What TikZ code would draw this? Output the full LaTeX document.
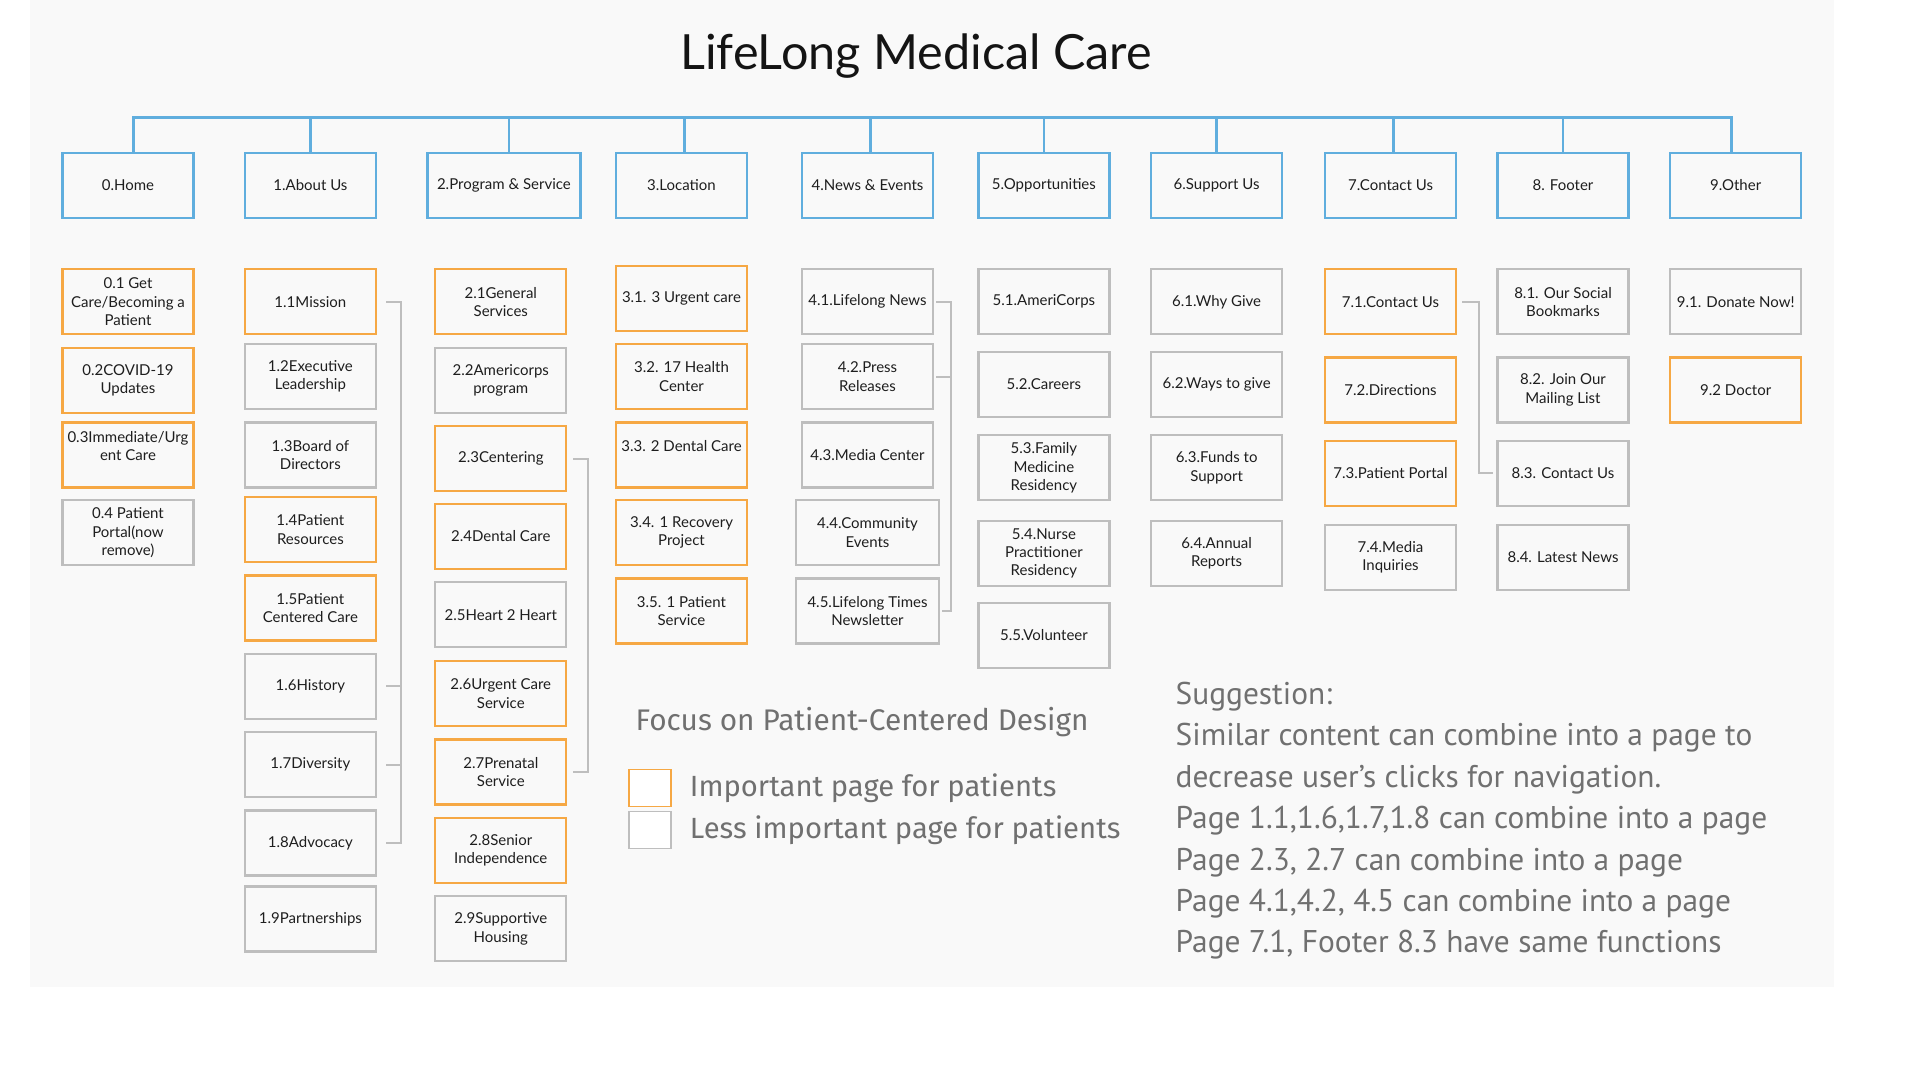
\documentclass[tikz,border=0pt]{standalone}
\usepackage{fontspec}
\setmainfont{Lato}
\newfontfamily\notefont{Fira Sans}
\newfontfamily\sugfont{PT Sans}
\usetikzlibrary{calc,positioning}
\definecolor{bgc}{RGB}{249,249,249}
\definecolor{bluec}{RGB}{96,174,222}
\definecolor{imp}{RGB}{246,168,68}
\definecolor{low}{RGB}{190,190,190}
\definecolor{ink}{RGB}{30,30,30}
\definecolor{note}{RGB}{112,112,112}

\begin{document}
\begin{tikzpicture}[x=1pt,y=-1pt,
  page/.style={draw=#1,line width=2.2pt,minimum width=131,minimum height=65,align=center,inner sep=1pt,text=ink,font=\fontsize{15}{18.4}\selectfont},
  bus/.style={bluec,line width=2.4pt},
  link/.style={low,line width=2pt}]
  \useasboundingbox (0,0) rectangle (1920,1080);
  \fill[bgc] (30,0) rectangle (1834,987);
  \node[font=\fontsize{48.5}{54}\selectfont,text=black!92] (title) at (916,56) {LifeLong Medical Care};

  \foreach \i/\x/\w/\t in {0/128/131/0.Home, 1/310.4/131/1.About Us, 2/503.9/153/2.Program \& Service,
    3/681.5/131/3.Location, 4/867.5/131/4.News \& Events, 5/1043.9/131/5.Opportunities,
    6/1216.6/131/6.Support Us, 7/1390.5/131/7.Contact Us, 8/1563/131/8. Footer, 9/1735.7/131/9.Other}
    {\node[page=bluec,minimum width=\w] (n\i) at (\x,185.5) {\t};}
  \coordinate (bus) at (0,117.5);
  \foreach \i/\d in {0/5.5,1/0,2/4.9,3/3,4/3,5/0,6/0,7/3,8/0,9/-4.3}{\coordinate (d\i) at ([xshift=\d]n\i.north);}
  \draw[bus] (d0) |- (bus -| d9) -- (d9);
  \foreach \i in {1,...,8}{\draw[bus] (d\i) -- (d\i |- bus);}

  \foreach \j/\y/\c/\t in {1/301.8/imp/{0.1 Get\\Care/Becoming a\\Patient}, 2/380.2/imp/{0.2COVID-19\\Updates},
    3/454.9/imp/{0.3Immediate/Urg\\ent Care\\~}, 4/532.7/low/{0.4 Patient\\Portal(now\\remove)}}
    {\node[page=\c] (n0\j) at (128,\y) {\t};}
  \foreach \j/\y/\c/\t in {1/301.8/imp/1.1Mission, 2/376.5/low/{1.2Executive\\Leadership}, 3/454.9/low/{1.3Board of\\Directors},
    4/529.6/imp/{1.4Patient\\Resources}, 5/608/imp/{1.5Patient\\Centered Care}, 6/686.3/low/1.6History,
    7/764.7/low/1.7Diversity, 8/843/low/1.8Advocacy, 9/919/low/1.9Partnerships}
    {\node[page=\c] (n1\j) at (310.4,\y) {\t};}
  \foreach \j/\y/\c/\t in {1/301.8/imp/{2.1General\\Services}, 2/380.2/low/{2.2Americorps\\program}, 3/458.6/imp/2.3Centering,
    4/536.3/imp/2.4Dental Care, 5/614.7/low/2.5Heart 2 Heart, 6/693.7/imp/{2.6Urgent Care\\Service},
    7/772/imp/{2.7Prenatal\\Service}, 8/850.4/imp/{2.8Senior\\Independence}, 9/928.8/low/{2.9Supportive\\Housing}}
    {\node[page=\c] (n2\j) at (500.8,\y) {\t};}
  \foreach \j/\y/\t in {1/298.2/3.1. 3 Urgent care, 2/376.5/{3.2. 17 Health\\Center}, 3/454.9/{3.3. 2 Dental Care\\~},
    4/532.7/{3.4. 1 Recovery\\Project}, 5/611/{3.5. 1 Patient\\Service}}
    {\node[page=imp] (n3\j) at (681.5,\y) {\t};}
  \foreach \j/\y/\w/\t in {1/301.8/131/4.1.Lifelong News, 2/376.5/131/{4.2.Press\\Releases}, 3/454.9/131/4.3.Media Center,
    4/532.7/143/{4.4.Community\\Events}, 5/611/143/{4.5.Lifelong Times\\Newsletter}}
    {\node[page=low,minimum width=\w] (n4\j) at (867.5,\y) {\t};}
  \foreach \j/\y/\t in {1/301.8/5.1.AmeriCorps, 2/384.5/5.2.Careers, 3/467.8/{5.3.Family\\Medicine\\Residency},
    4/553.5/{5.4.Nurse\\Practitioner\\Residency}, 5/635.5/5.5.Volunteer}
    {\node[page=low] (n5\j) at (1043.9,\y) {\t};}
  \foreach \j/\y/\t in {1/301.8/6.1.Why Give, 2/384.5/6.2.Ways to give, 3/467.8/{6.3.Funds to\\Support}, 4/553.5/{6.4.Annual\\Reports}}
    {\node[page=low] (n6\j) at (1216.6,\y) {\t};}
  \foreach \j/\y/\c/\t in {1/301.8/imp/7.1.Contact Us, 2/390/imp/7.2.Directions, 3/473.3/imp/7.3.Patient Portal,
    4/557.1/low/{7.4.Media\\Inquiries}}
    {\node[page=\c] (n7\j) at (1390.5,\y) {\t};}
  \foreach \j/\y/\t in {1/301.8/{8.1. Our Social\\Bookmarks}, 2/390/{8.2. Join Our\\Mailing List}, 3/473.3/8.3. Contact Us,
    4/557.1/8.4. Latest News}
    {\node[page=low] (n8\j) at (1563,\y) {\t};}
  \node[page=low] (n91) at (1735.7,301.8) {9.1. Donate Now!};
  \node[page=imp] (n92) at (1735.7,390) {9.2 Doctor};

  \coordinate (v1) at ($(n11.east)+(24,0)$);
  \draw[link,shorten <=9pt,shorten >=9pt] (n11.east) -- (v1) |- (n18.east);
  \foreach \k in {16,17}{\draw[link,shorten <=9pt] (n\k.east) -- (n\k.east -| v1);}
  \coordinate (v2) at ($(n23.east)+(21,0)$);
  \draw[link,shorten <=6pt,shorten >=6pt] (n23.east) -- (v2) |- (n27.east);
  \coordinate (v4) at ($(n41.east)+(17,0)$);
  \draw[link,shorten <=2pt,shorten >=2pt] (n41.east) -- (v4) |- (n45.east);
  \draw[link,shorten <=2pt] (n42.east) -- (n42.east -| v4);
  \coordinate (v7) at ($(n71.east)+(22,0)$);
  \draw[link,shorten <=5pt,shorten >=3pt] (n71.east) -- (v7) |- (n83.west);

  \node[anchor=west,inner sep=0,text=note,font=\notefont\fontsize{29.8}{32}\selectfont] (focus) at (635.5,722.5) {Focus on Patient-Centered Design};
  \node[draw=imp,fill=white,line width=1.5pt,minimum width=42,minimum height=37,inner sep=0] (legimp) at (650,788) {};
  \node[draw=low,fill=white,line width=1.5pt,minimum width=42,minimum height=37,inner sep=0] (leglow) at (650,830) {};
  \node[right=18pt of legimp,inner sep=0,text=note,font=\notefont\fontsize{29.2}{32}\selectfont] (legimpt) {Important page for patients};
  \node[right=18pt of leglow,inner sep=0,text=note,font=\notefont\fontsize{29.2}{32}\selectfont] (leglowt) {Less important page for patients};

  \node[anchor=north west,inner sep=0,align=left,text=note,font=\sugfont\fontsize{31.4}{41.4}\selectfont] (sugg) at (1175.5,682)
    {Suggestion:\\Similar content can combine into a page to\\decrease user’s clicks for navigation.\\Page 1.1,1.6,1.7,1.8 can combine into a page\\Page 2.3, 2.7 can combine into a page\\Page 4.1,4.2, 4.5 can combine into a page\\Page 7.1, Footer 8.3 have same functions};
\end{tikzpicture}
\end{document}
